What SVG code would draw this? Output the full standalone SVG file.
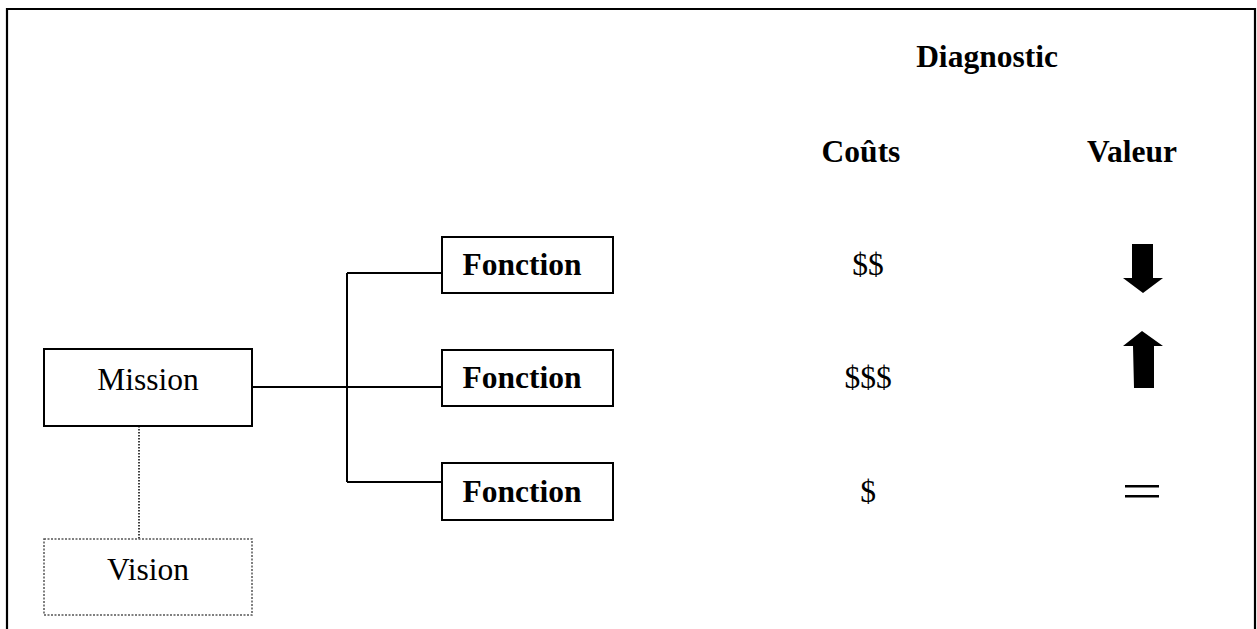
<svg xmlns="http://www.w3.org/2000/svg" width="1257" height="629" viewBox="0 0 1257 629">
<style>
  .t { font-family: "Liberation Serif", "Times New Roman", serif; font-size: 31.5px; fill: #000; text-anchor: middle; }
  .b { font-weight: bold; }
  .box { fill: #fff; stroke: #000; stroke-width: 2; }
  .conn { fill: none; stroke: #000; stroke-width: 2; }
</style>
<rect x="0" y="0" width="1257" height="629" fill="#fff"/>
<path id="frame" d="M7,640 V9 H1255 V640" fill="none" stroke="#000" stroke-width="2.2"/>
<g id="connectors">
  <path class="conn" d="M252,387 H442 M347,273 V482 M347,273 H442 M347,482 H442"/>
  <line x1="139" y1="426" x2="139" y2="539" stroke="#000" stroke-width="1.5" stroke-dasharray="1.5,1.5"/>
</g>
<g id="mission">
  <rect class="box" x="44" y="349" width="208" height="77"/>
  <text class="t" x="148" y="390">Mission</text>
</g>
<g id="vision">
  <rect x="44" y="539" width="208" height="76" fill="#fff" stroke="#555" stroke-width="1.5" stroke-dasharray="2,1.5"/>
  <text class="t" x="148" y="580">Vision</text>
</g>
<g id="fonction1">
  <rect class="box" x="442" y="237" width="171" height="56"/>
  <text class="t b" x="522" y="275">Fonction</text>
</g>
<g id="fonction2">
  <rect class="box" x="442" y="350" width="171" height="56"/>
  <text class="t b" x="522" y="388">Fonction</text>
</g>
<g id="fonction3">
  <rect class="box" x="442" y="463" width="171" height="57"/>
  <text class="t b" x="522" y="502">Fonction</text>
</g>
<g id="headers">
  <text class="t b" x="987" y="67">Diagnostic</text>
  <text class="t b" x="861" y="162">Coûts</text>
  <text class="t b" x="1132" y="162">Valeur</text>
</g>
<g id="costs">
  <text class="t" x="868" y="275">$$</text>
  <text class="t" x="868" y="388">$$$</text>
  <text class="t" x="868" y="502">$</text>
</g>
<g id="values">
  <polygon points="1132,244 1153,244 1153,278 1163,278 1143,293 1123,278 1132,278" fill="#000"/>
  <polygon points="1142,331 1163,346 1154,346 1154,388 1134,388 1133,346 1123,346" fill="#000"/>
  <rect x="1125" y="485" width="34" height="2.5" fill="#000"/>
  <rect x="1125" y="495" width="34" height="2.5" fill="#000"/>
</g>
</svg>
